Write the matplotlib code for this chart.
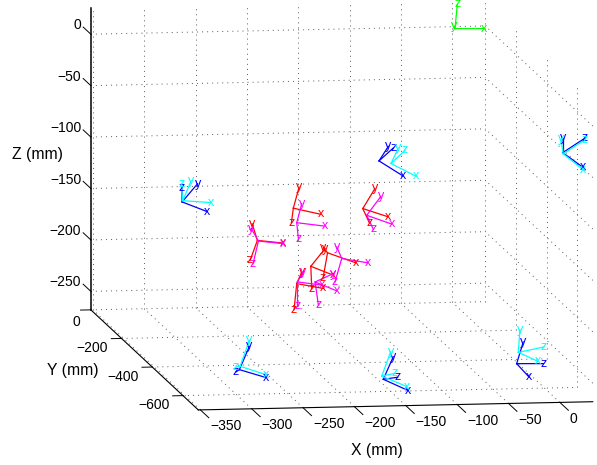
import matplotlib
matplotlib.use("Agg")
import matplotlib.pyplot as plt
from mpl_toolkits.mplot3d import proj3d

plt.rcParams["font.family"] = ["Liberation Sans", "DejaVu Sans"]

# axis limits and ticks (mm)
x_lim = (-352, 32)
y_lim = (-700, 0)
z_lim = (-268, 25)
x_ticks = [-350, -300, -250, -200, -150, -100, -50, 0]
y_ticks = [0, -200, -400, -600]
z_ticks = [0, -50, -100, -150, -200, -250]

# the depth of the frames can't be read from one view, so all sit on one plane
frame_y = -300

# one entry per coordinate frame: origin and the tips of its x, y, z arrows
frame_colors = ["#0000ff", "#00ffff", "#0000ff", "#00ffff", "#0000ff", "#00ffff", "#00ff00",
                "#ff0000", "#ff00ff", "#ff0000", "#ff00ff", "#ff0000", "#ff00ff",
                "#ff0000", "#ff00ff", "#ff0000", "#ff00ff", "#ff0000", "#ff00ff",
                "#0000ff", "#00ffff", "#0000ff", "#00ffff", "#0000ff", "#00ffff"]
origin_x = [-308.0, -307.3, 62.5, 63.0, -116.3, -104.6, -42.3,
            -132.1, -128.2, -199.7, -196.4, -234.7, -233.7,
            -166.4, -152.6, -182.7, -178.5, -196.4, -195.8,
            -252.2, -251.5, -112.1, -113.6, 17.7, 19.3]
origin_z = [-122.3, -121.1, -82.1, -83.2, -86.4, -89.2, 40.7,
            -132.4, -139.0, -130.6, -144.8, -161.2, -161.9,
            -174.7, -180.5, -187.5, -202.8, -204.0, -202.4,
            -286.5, -283.3, -298.8, -295.6, -286.3, -275.4]
xtip_x = [-283.6, -280.0, 82.5, 82.5, -92.6, -80.3, -14.1,
          -107.2, -103.9, -172.7, -168.5, -209.4, -209.4,
          -138.7, -127.0, -160.7, -157.4, -170.5, -171.7,
          -226.2, -226.2, -87.8, -89.3, 30.0, 38.7]
xtip_z = [-132.2, -123.5, -96.9, -99.2, -101.7, -102.0, 40.2,
          -141.0, -148.1, -137.2, -148.8, -164.4, -164.9,
          -185.1, -185.3, -196.6, -211.9, -209.3, -206.0,
          -294.8, -291.9, -310.3, -306.4, -299.8, -284.5]
ytip_x = [-292.9, -299.2, 62.5, 60.8, -107.2, -97.5, -43.3,
          -120.2, -114.3, -194.1, -191.5, -239.8, -240.5,
          -170.3, -157.4, -168.8, -160.7, -191.5, -190.0,
          -242.5, -242.5, -102.4, -104.9, 24.1, 20.9]
ytip_z = [-104.9, -101.8, -68.1, -69.0, -72.4, -74.2, 43.0,
          -113.1, -120.7, -110.3, -126.4, -144.9, -149.8,
          -169.7, -169.1, -170.5, -195.0, -192.8, -192.8,
          -264.1, -258.2, -277.1, -272.1, -265.4, -253.4]
ztip_x = [-308.2, -308.9, 84.2, 84.2, -102.4, -91.0, -40.1,
          -125.7, -121.8, -201.6, -194.8, -241.8, -238.9,
          -170.8, -159.1, -181.8, -175.3, -199.0, -195.8,
          -255.7, -255.4, -98.1, -100.7, 43.6, 44.3]
ztip_z = [-109.1, -104.8, -68.4, -70.0, -74.1, -76.6, 64.3,
          -146.4, -152.9, -144.7, -160.4, -180.6, -183.8,
          -199.3, -203.1, -209.1, -225.5, -229.2, -226.0,
          -288.7, -283.9, -297.1, -293.2, -286.8, -270.6]


def tick_text(v):
    return str(v).replace("-", "\u2212")


fig = plt.figure(figsize=(5.97, 4.65), dpi=100)
# square axes, placed so the box lands where the reference has it
ax = fig.add_axes([64.5 / 597, -17.4 / 465, 540 / 597, 540 / 465], projection="3d", computed_zorder=False)
ax.set_proj_type("ortho")
ax.view_init(elev=8, azim=-98.5)
ax.set_xlim(x_lim)
ax.set_ylim(y_lim)
ax.set_zlim(z_lim)
ax.set_box_aspect((x_lim[1] - x_lim[0], y_lim[1] - y_lim[0], z_lim[1] - z_lim[0]), zoom=1.588)
ax.set_axis_off()


def label(x, y, z, s, **kw):
    # text at a 3D point, drawn as plain 2D text on the projected position
    px, py, _ = proj3d.proj_transform(x, y, z, ax.get_proj())
    ax.text2D(px, py, s, transform=ax.transData, va="center", clip_on=False, **kw)


# dotted grid on back wall, right wall and floor
grid = dict(color="0.35", linewidth=0.7, linestyle=(0, (1, 4.2)))
for x in x_ticks:
    ax.plot([x, x], [0, 0], z_lim, **grid)
    ax.plot([x, x], y_lim, [z_lim[0], z_lim[0]], **grid)
for y in y_ticks:
    ax.plot([x_lim[1], x_lim[1]], [y, y], z_lim, **grid)
    ax.plot(x_lim, [y, y], [z_lim[0], z_lim[0]], **grid)
for z in z_ticks:
    ax.plot(x_lim, [0, 0], [z, z], **grid)
    ax.plot([x_lim[1], x_lim[1]], y_lim, [z, z], **grid)

# box edges
ax.plot([x_lim[0], x_lim[0]], [0, 0], z_lim, color="k", linewidth=1.1)
ax.plot([x_lim[0], x_lim[0]], y_lim, [z_lim[0], z_lim[0]], color="k", linewidth=0.8)
ax.plot(x_lim, [y_lim[0], y_lim[0]], [z_lim[0], z_lim[0]], color="k", linewidth=0.8)

# ticks and their labels
for x in x_ticks:
    ax.plot([x, x], [y_lim[0], y_lim[0] - 55], [z_lim[0], z_lim[0]], color="k", linewidth=0.7)
    label(x, y_lim[0] - 65, z_lim[0] - 7, tick_text(x), fontsize=10, ha="left")
for y in y_ticks:
    ax.plot([x_lim[0], x_lim[0] - 10], [y, y], [z_lim[0], z_lim[0]], color="k", linewidth=0.7)
    # the 0 sits a little lower and closer to the axis
    dx, dz = (10, 12) if y == 0 else (13, 9)
    label(x_lim[0] - dx, y, z_lim[0] - dz, tick_text(y), fontsize=10, ha="right")
for z in z_ticks:
    ax.plot([x_lim[0], x_lim[0]], [0, 50], [z, z], color="k", linewidth=0.7)
    label(x_lim[0], 62, z, tick_text(z), fontsize=10, ha="right")

label(-178, y_lim[0], z_lim[0] - 43, "X (mm)", fontsize=11.3, ha="center")
label(x_lim[0] - 70, -350, z_lim[0] - 9, "Y (mm)", fontsize=11.3, ha="center")
label(x_lim[0] - 52, 0, -116, "Z (mm)", fontsize=11.3, ha="center")

# coordinate frames
for i, c in enumerate(frame_colors):
    tips = [("x", xtip_x[i], xtip_z[i]), ("y", ytip_x[i], ytip_z[i]), ("z", ztip_x[i], ztip_z[i])]
    for name, tx, tz in tips:
        ax.plot([origin_x[i], tx], [frame_y, frame_y], [origin_z[i], tz], color=c, linewidth=0.9)
        label(tx, frame_y, tz, name, color=c, fontsize=9, ha="center")

fig.savefig("out.png", dpi=100)
